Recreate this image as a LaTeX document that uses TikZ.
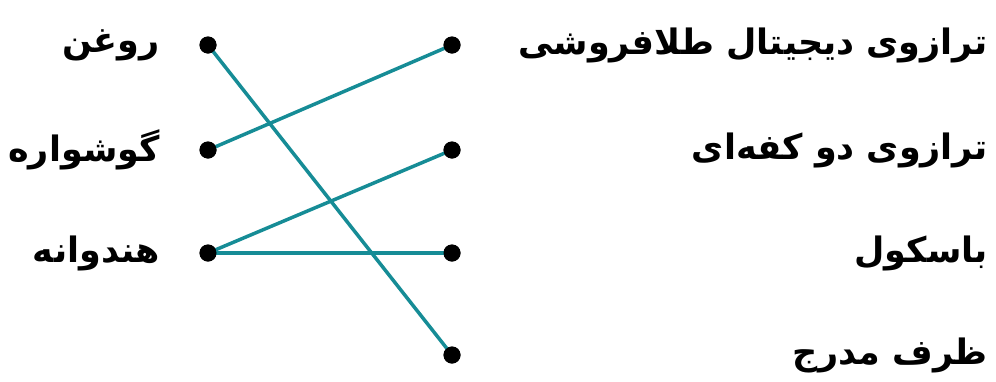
\documentclass[tikz,border=0pt]{standalone}
\usepackage{fontspec}
\TeXXeTstate=1
\newfontfamily\arabicfont[Script=Arabic]{DejaVu Sans}
\definecolor{linkc}{RGB}{22,140,150}
\begin{document}
\begin{tikzpicture}[x=1pt,y=-1pt,
  dot/.style={circle,fill=black,inner sep=0pt,minimum size=17pt},
  lbl/.style={font=\arabicfont\bfseries\fontsize{35}{40}\selectfont,inner sep=0pt},
  link/.style={draw=linkc,line width=3.5pt}]
\useasboundingbox (0,0) rectangle (996,381);
% left dots
\node[dot] (l1) at (208,45) {};
\node[dot] (l2) at (208,150) {};
\node[dot] (l3) at (208,253) {};
% right dots
\node[dot] (r1) at (452,45) {};
\node[dot] (r2) at (452,150) {};
\node[dot] (r3) at (452,253) {};
\node[dot] (r4) at (452,355) {};
% left labels
\node[lbl,anchor=east] (tl1) at (160,45) {\beginR روغن\endR};
\node[lbl,anchor=east] (tl2) at (160,150) {\beginR گوشواره\endR};
\node[lbl,anchor=east] (tl3) at (160,253) {\beginR هندوانه\endR};
% right labels
\node[lbl,anchor=east] (tr1) at (988,45) {\beginR ترازوی دیجیتال طلافروشی\endR};
\node[lbl,anchor=east] (tr2) at (988,150) {\beginR ترازوی دو کفه‌ای\endR};
\node[lbl,anchor=east] (tr3) at (988,253) {\beginR باسکول\endR};
\node[lbl,anchor=east] (tr4) at (988,355) {\beginR ظرف مدرج\endR};
% links
\draw[link] (l1.center) -- (r4.center);
\draw[link] (l2.center) -- (r1.center);
\draw[link] (l3.center) -- (r2.center);
\draw[link] (l3.center) -- (r3.center);
\foreach \n in {l1,l2,l3,r1,r2,r3,r4} \fill (\n) circle (8.5pt);
\end{tikzpicture}
\end{document}
